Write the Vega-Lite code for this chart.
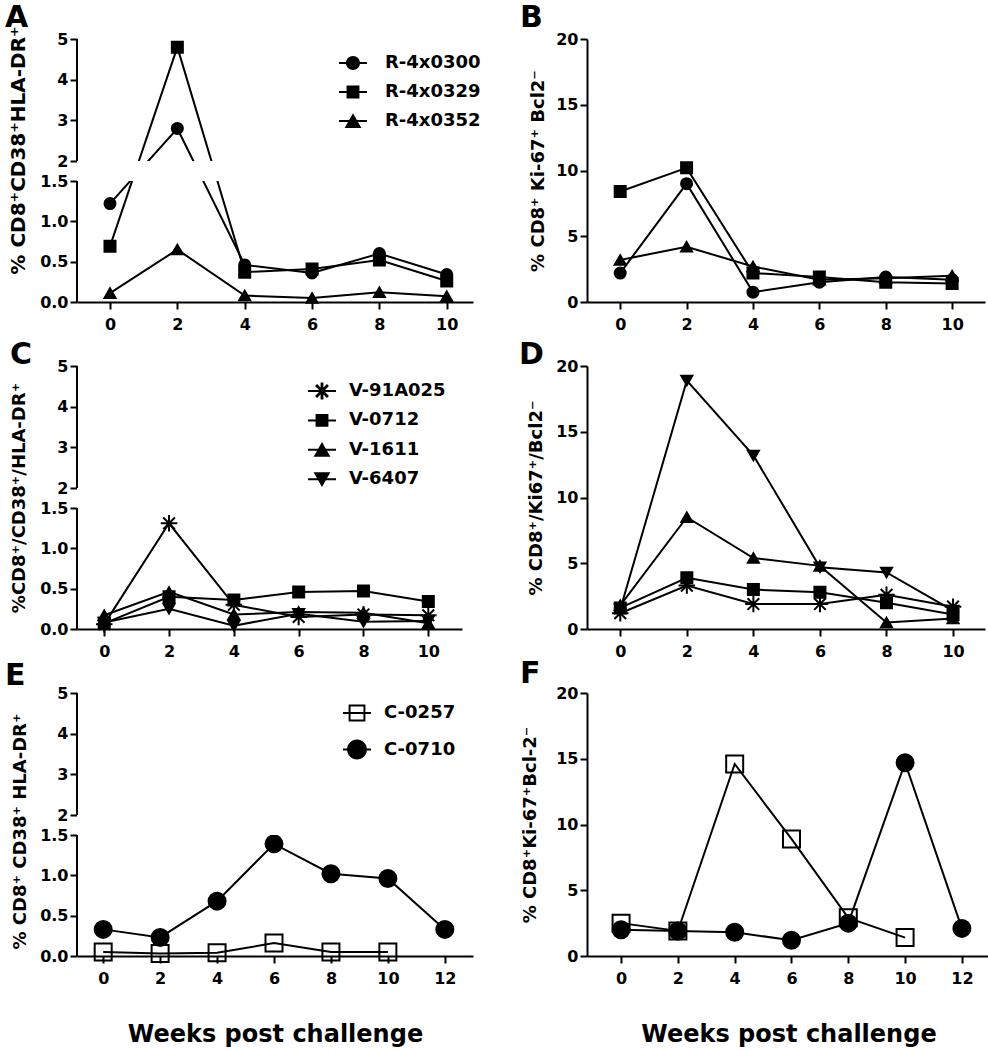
{
  "$schema": "https://vega.github.io/schema/vega-lite/v6.json",
  "background": "white",
  "padding": {"left": 5, "top": 2, "right": 5, "bottom": 8},
  "config": {
    "font": "DejaVu Sans",
    "view": {"stroke": null},
    "axis": {"grid": false, "labelFont": "DejaVu Sans", "labelFontWeight": "bold", "labelFontSize": 16, "labelColor": "black", "titleFont": "DejaVu Sans", "titleFontWeight": "bold", "titleFontSize": 18, "titleColor": "black", "domainColor": "black", "domainWidth": 2, "tickColor": "black", "tickWidth": 2, "tickSize": 7, "labelOverlap": false, "labelFlush": false},
    "axisX": {"labelPadding": 7},
    "axisY": {"labelPadding": 2},
    "legend": {"labelFont": "DejaVu Sans", "labelFontWeight": "bold", "labelFontSize": 18, "labelColor": "black", "labelLimit": 400},
    "title": {"font": "DejaVu Sans", "fontSize": 30, "fontWeight": "bold", "color": "black", "anchor": "start", "frame": "group", "offset": 0}
  },
  "datasets": {
    "dA": [
      {"animal": "R-4x0300", "week": 0, "value": 1.22}, {"animal": "R-4x0300", "week": 2, "value": 2.8}, {"animal": "R-4x0300", "week": 4, "value": 0.46}, {"animal": "R-4x0300", "week": 6, "value": 0.36}, {"animal": "R-4x0300", "week": 8, "value": 0.6}, {"animal": "R-4x0300", "week": 10, "value": 0.34},
      {"animal": "R-4x0329", "week": 0, "value": 0.69}, {"animal": "R-4x0329", "week": 2, "value": 4.8}, {"animal": "R-4x0329", "week": 4, "value": 0.37}, {"animal": "R-4x0329", "week": 6, "value": 0.41}, {"animal": "R-4x0329", "week": 8, "value": 0.52}, {"animal": "R-4x0329", "week": 10, "value": 0.26},
      {"animal": "R-4x0352", "week": 0, "value": 0.11}, {"animal": "R-4x0352", "week": 2, "value": 0.65}, {"animal": "R-4x0352", "week": 4, "value": 0.08}, {"animal": "R-4x0352", "week": 6, "value": 0.05}, {"animal": "R-4x0352", "week": 8, "value": 0.12}, {"animal": "R-4x0352", "week": 10, "value": 0.07}
    ],
    "dB": [
      {"animal": "R-4x0300", "week": 0, "value": 2.2}, {"animal": "R-4x0300", "week": 2, "value": 9.0}, {"animal": "R-4x0300", "week": 4, "value": 0.75}, {"animal": "R-4x0300", "week": 6, "value": 1.5}, {"animal": "R-4x0300", "week": 8, "value": 1.9}, {"animal": "R-4x0300", "week": 10, "value": 1.7},
      {"animal": "R-4x0329", "week": 0, "value": 8.4}, {"animal": "R-4x0329", "week": 2, "value": 10.2}, {"animal": "R-4x0329", "week": 4, "value": 2.2}, {"animal": "R-4x0329", "week": 6, "value": 1.9}, {"animal": "R-4x0329", "week": 8, "value": 1.5}, {"animal": "R-4x0329", "week": 10, "value": 1.4},
      {"animal": "R-4x0352", "week": 0, "value": 3.2}, {"animal": "R-4x0352", "week": 2, "value": 4.2}, {"animal": "R-4x0352", "week": 4, "value": 2.7}, {"animal": "R-4x0352", "week": 6, "value": 1.7}, {"animal": "R-4x0352", "week": 8, "value": 1.8}, {"animal": "R-4x0352", "week": 10, "value": 2.0}
    ],
    "dC": [
      {"animal": "V-91A025", "week": 0, "value": 0.06}, {"animal": "V-91A025", "week": 2, "value": 1.31}, {"animal": "V-91A025", "week": 4, "value": 0.3}, {"animal": "V-91A025", "week": 6, "value": 0.15}, {"animal": "V-91A025", "week": 8, "value": 0.18}, {"animal": "V-91A025", "week": 10, "value": 0.17},
      {"animal": "V-0712", "week": 0, "value": 0.07}, {"animal": "V-0712", "week": 2, "value": 0.4}, {"animal": "V-0712", "week": 4, "value": 0.36}, {"animal": "V-0712", "week": 6, "value": 0.46}, {"animal": "V-0712", "week": 8, "value": 0.47}, {"animal": "V-0712", "week": 10, "value": 0.34},
      {"animal": "V-1611", "week": 0, "value": 0.17}, {"animal": "V-1611", "week": 2, "value": 0.46}, {"animal": "V-1611", "week": 4, "value": 0.18}, {"animal": "V-1611", "week": 6, "value": 0.21}, {"animal": "V-1611", "week": 8, "value": 0.2}, {"animal": "V-1611", "week": 10, "value": 0.07},
      {"animal": "V-6407", "week": 0, "value": 0.08}, {"animal": "V-6407", "week": 2, "value": 0.25}, {"animal": "V-6407", "week": 4, "value": 0.04}, {"animal": "V-6407", "week": 6, "value": 0.19}, {"animal": "V-6407", "week": 8, "value": 0.09}, {"animal": "V-6407", "week": 10, "value": 0.1}
    ],
    "dD": [
      {"animal": "V-91A025", "week": 0, "value": 1.2}, {"animal": "V-91A025", "week": 2, "value": 3.3}, {"animal": "V-91A025", "week": 4, "value": 1.9}, {"animal": "V-91A025", "week": 6, "value": 1.9}, {"animal": "V-91A025", "week": 8, "value": 2.6}, {"animal": "V-91A025", "week": 10, "value": 1.7},
      {"animal": "V-0712", "week": 0, "value": 1.6}, {"animal": "V-0712", "week": 2, "value": 3.9}, {"animal": "V-0712", "week": 4, "value": 3.0}, {"animal": "V-0712", "week": 6, "value": 2.8}, {"animal": "V-0712", "week": 8, "value": 2.0}, {"animal": "V-0712", "week": 10, "value": 1.1},
      {"animal": "V-1611", "week": 0, "value": 1.8}, {"animal": "V-1611", "week": 2, "value": 8.5}, {"animal": "V-1611", "week": 4, "value": 5.4}, {"animal": "V-1611", "week": 6, "value": 4.8}, {"animal": "V-1611", "week": 8, "value": 0.5}, {"animal": "V-1611", "week": 10, "value": 0.8},
      {"animal": "V-6407", "week": 0, "value": 1.5}, {"animal": "V-6407", "week": 2, "value": 18.9}, {"animal": "V-6407", "week": 4, "value": 13.2}, {"animal": "V-6407", "week": 6, "value": 4.7}, {"animal": "V-6407", "week": 8, "value": 4.3}, {"animal": "V-6407", "week": 10, "value": 1.4}
    ],
    "dE": [
      {"animal": "C-0710", "week": 0, "value": 0.33}, {"animal": "C-0710", "week": 2, "value": 0.23}, {"animal": "C-0710", "week": 4, "value": 0.68}, {"animal": "C-0710", "week": 6, "value": 1.39}, {"animal": "C-0710", "week": 8, "value": 1.02}, {"animal": "C-0710", "week": 10, "value": 0.96}, {"animal": "C-0710", "week": 12, "value": 0.33},
      {"animal": "C-0257", "week": 0, "value": 0.05}, {"animal": "C-0257", "week": 2, "value": 0.03}, {"animal": "C-0257", "week": 4, "value": 0.04}, {"animal": "C-0257", "week": 6, "value": 0.16}, {"animal": "C-0257", "week": 8, "value": 0.05}, {"animal": "C-0257", "week": 10, "value": 0.05}
    ],
    "dF": [
      {"animal": "C-0710", "week": 0, "value": 2.0}, {"animal": "C-0710", "week": 2, "value": 1.9}, {"animal": "C-0710", "week": 4, "value": 1.8}, {"animal": "C-0710", "week": 6, "value": 1.2}, {"animal": "C-0710", "week": 8, "value": 2.5}, {"animal": "C-0710", "week": 10, "value": 14.7}, {"animal": "C-0710", "week": 12, "value": 2.1},
      {"animal": "C-0257", "week": 0, "value": 2.5}, {"animal": "C-0257", "week": 2, "value": 1.9}, {"animal": "C-0257", "week": 4, "value": 14.6}, {"animal": "C-0257", "week": 6, "value": 8.9}, {"animal": "C-0257", "week": 8, "value": 2.9}, {"animal": "C-0257", "week": 10, "value": 1.4}
    ]
  },
  "bounds": "flush",
  "align": "all",
  "columns": 2,
  "spacing": {"row": 64, "column": 107},
  "resolve": {"scale": {"shape": "independent", "fill": "independent", "x": "independent", "y": "independent"}, "legend": {"shape": "independent", "fill": "independent"}},
  "concat": [
    {
      "width": 396, "height": 263,
      "title": {"text": "A", "dx": -72, "dy": 11},
      "data": {"name": "dA"},
      "resolve": {"scale": {"shape": "independent"}, "legend": {"shape": "independent"}},
      "layer": [
        {"mark": {"type": "line", "color": "black", "strokeWidth": 2},
         "encoding": {
           "x": {"field": "week", "type": "quantitative", "scale": {"domain": [-0.98, 10.78], "nice": false, "zero": false}, "axis": {"values": [0, 2, 4, 6, 8, 10], "tickCount": 20, "format": "d", "title": null, "labelOverlap": false}},
           "y": {"field": "value", "type": "quantitative", "scale": {"domain": [0, 1.5, 2, 5], "range": [263, 142, 122, 0], "nice": false, "zero": false}, "axis": {"values": [0, 0.5, 1, 1.5, 2, 3, 4, 5], "tickCount": 20, "labelExpr": "datum.value >= 2 ? format(datum.value, 'd') : format(datum.value, '.1f')", "labelOverlap": false, "domain": false, "title": "% CD8⁺CD38⁺HLA-DR⁺", "titleFontSize": 20, "titlePadding": 11, "titleY": 111}},
           "detail": {"field": "animal"}}},
        {"mark": {"type": "point", "filled": true, "opacity": 1, "color": "black", "stroke": "black", "strokeWidth": 2, "size": 121},
         "encoding": {
           "x": {"field": "week", "type": "quantitative", "scale": {"domain": [-0.98, 10.78], "nice": false, "zero": false}},
           "y": {"field": "value", "type": "quantitative", "scale": {"domain": [0, 1.5, 2, 5], "range": [263, 142, 122, 0], "nice": false, "zero": false}},
           "shape": {"field": "animal", "type": "nominal", "scale": {"domain": ["R-4x0300", "R-4x0329", "R-4x0352"], "range": ["circle", "square", "triangle-up"]}, "legend": null}}},
        {"transform": [{"filter": "false"}],
         "mark": {"type": "point", "filled": true, "opacity": 1, "color": "black", "strokeWidth": 0},
         "encoding": {
           "shape": {"field": "animal", "type": "nominal", "scale": {"domain": ["R-4x0300", "R-4x0329", "R-4x0352"], "range": ["M-1,-0.07H1V0.07H-1Z M0.5,0A0.5,0.5,0,1,1,-0.5,0A0.5,0.5,0,1,1,0.5,0Z", "M-1,-0.07H1V0.07H-1Z M-0.46,-0.46H0.46V0.46H-0.46Z", "M-1,-0.07H1V0.07H-1Z M0,-0.55L0.6,0.5H-0.6Z"]},
             "legend": {"orient": "none", "legendX": 262, "legendY": 10, "title": null, "padding": 0, "labelOffset": 18, "symbolSize": 784, "symbolStrokeWidth": 0, "symbolOpacity": 1, "rowPadding": 6}}}},
        {"data": {"values": [{}]}, "mark": {"type": "rect", "color": "white"},
         "encoding": {"y": {"datum": 1.5, "type": "quantitative", "scale": {"domain": [0, 1.5, 2, 5], "range": [263, 142, 122, 0], "nice": false, "zero": false}}, "y2": {"datum": 2}}},
        {"data": {"values": [{}]}, "mark": {"type": "rule", "color": "black", "strokeWidth": 2},
         "encoding": {"x": {"datum": -0.98, "type": "quantitative", "scale": {"domain": [-0.98, 10.78], "nice": false, "zero": false}}, "y": {"datum": 0, "type": "quantitative", "scale": {"domain": [0, 1.5, 2, 5], "range": [263, 142, 122, 0], "nice": false, "zero": false}}, "y2": {"datum": 1.5}}},
        {"data": {"values": [{}]}, "mark": {"type": "rule", "color": "black", "strokeWidth": 2},
         "encoding": {"x": {"datum": -0.98, "type": "quantitative", "scale": {"domain": [-0.98, 10.78], "nice": false, "zero": false}}, "y": {"datum": 2, "type": "quantitative", "scale": {"domain": [0, 1.5, 2, 5], "range": [263, 142, 122, 0], "nice": false, "zero": false}}, "y2": {"datum": 5}}}
      ]
    },
    {
      "width": 398, "height": 263,
      "title": {"text": "B", "dx": -67, "dy": 6},
      "data": {"name": "dB"},
      "layer": [
        {"mark": {"type": "line", "color": "black", "strokeWidth": 2},
         "encoding": {
           "x": {"field": "week", "type": "quantitative", "scale": {"domain": [-1.0, 10.99], "nice": false, "zero": false}, "axis": {"values": [0, 2, 4, 6, 8, 10], "tickCount": 20, "format": "d", "title": null, "labelOverlap": false}},
           "y": {"field": "value", "type": "quantitative", "scale": {"domain": [0, 20], "nice": false, "zero": false}, "axis": {"values": [0, 5, 10, 15, 20], "tickCount": 20, "format": "d", "labelOverlap": false, "title": "% CD8⁺ Ki-67⁺ Bcl2⁻", "titlePadding": 8}},
           "detail": {"field": "animal"}}},
        {"mark": {"type": "point", "filled": true, "opacity": 1, "color": "black", "stroke": "black", "strokeWidth": 2, "size": 121},
         "encoding": {
           "x": {"field": "week", "type": "quantitative", "scale": {"domain": [-1.0, 10.99], "nice": false, "zero": false}},
           "y": {"field": "value", "type": "quantitative", "scale": {"domain": [0, 20], "nice": false, "zero": false}},
           "shape": {"field": "animal", "type": "nominal", "scale": {"domain": ["R-4x0300", "R-4x0329", "R-4x0352"], "range": ["circle", "square", "triangle-up"]}, "legend": null}}}
      ]
    },
    {
      "width": 385, "height": 263,
      "title": {"text": "C", "dx": -67, "dy": 16},
      "data": {"name": "dC"},
      "resolve": {"scale": {"shape": "independent"}, "legend": {"shape": "independent"}},
      "layer": [
        {"mark": {"type": "line", "color": "black", "strokeWidth": 2},
         "encoding": {
           "x": {"field": "week", "type": "quantitative", "scale": {"domain": [-0.84, 11.04], "nice": false, "zero": false}, "axis": {"values": [0, 2, 4, 6, 8, 10], "tickCount": 20, "format": "d", "title": null, "labelOverlap": false}},
           "y": {"field": "value", "type": "quantitative", "scale": {"domain": [0, 1.5, 2, 5], "range": [263, 142, 122, 0], "nice": false, "zero": false}, "axis": {"values": [0, 0.5, 1, 1.5, 2, 3, 4, 5], "tickCount": 20, "labelExpr": "datum.value >= 2 ? format(datum.value, 'd') : format(datum.value, '.1f')", "labelOverlap": false, "domain": false, "title": "%CD8⁺/CD38⁺/HLA-DR⁺", "titlePadding": 11}},
           "detail": {"field": "animal"}}},
        {"mark": {"type": "point", "filled": true, "opacity": 1, "color": "black", "stroke": "black", "strokeWidth": 2, "size": 121},
         "encoding": {
           "x": {"field": "week", "type": "quantitative", "scale": {"domain": [-0.84, 11.04], "nice": false, "zero": false}},
           "y": {"field": "value", "type": "quantitative", "scale": {"domain": [0, 1.5, 2, 5], "range": [263, 142, 122, 0], "nice": false, "zero": false}},
           "shape": {"field": "animal", "type": "nominal", "scale": {"domain": ["V-91A025", "V-0712", "V-1611", "V-6407"], "range": ["M0,-1.5V1.5M-1.5,0H1.5M-1.06,-1.06L1.06,1.06M-1.06,1.06L1.06,-1.06", "square", "triangle-up", "triangle-down"]}, "legend": null}}},
        {"transform": [{"filter": "false"}],
         "mark": {"type": "point", "filled": true, "opacity": 1, "color": "black", "strokeWidth": 0},
         "encoding": {
           "shape": {"field": "animal", "type": "nominal", "scale": {"domain": ["V-91A025", "V-0712", "V-1611", "V-6407"], "range": ["M-1,-0.07H1V0.07H-1Z M-0.1,-0.6H0.1V0.6H-0.1Z M-0.495,-0.354L-0.354,-0.495L0.495,0.354L0.354,0.495Z M-0.354,0.495L-0.495,0.354L0.354,-0.495L0.495,-0.354Z", "M-1,-0.07H1V0.07H-1Z M-0.46,-0.46H0.46V0.46H-0.46Z", "M-1,-0.07H1V0.07H-1Z M0,-0.55L0.6,0.5H-0.6Z", "M-1,-0.07H1V0.07H-1Z M0,0.55L-0.6,-0.5H0.6Z"]},
             "legend": {"orient": "none", "legendX": 231, "legendY": 11, "title": null, "padding": 0, "labelOffset": 13, "symbolSize": 784, "symbolStrokeWidth": 0, "symbolOpacity": 1, "rowPadding": 6.4}}}},
        {"data": {"values": [{}]}, "mark": {"type": "rect", "color": "white"},
         "encoding": {"y": {"datum": 1.5, "type": "quantitative", "scale": {"domain": [0, 1.5, 2, 5], "range": [263, 142, 122, 0], "nice": false, "zero": false}}, "y2": {"datum": 2}}},
        {"data": {"values": [{}]}, "mark": {"type": "rule", "color": "black", "strokeWidth": 2},
         "encoding": {"x": {"datum": -0.84, "type": "quantitative", "scale": {"domain": [-0.84, 11.04], "nice": false, "zero": false}}, "y": {"datum": 0, "type": "quantitative", "scale": {"domain": [0, 1.5, 2, 5], "range": [263, 142, 122, 0], "nice": false, "zero": false}}, "y2": {"datum": 1.5}}},
        {"data": {"values": [{}]}, "mark": {"type": "rule", "color": "black", "strokeWidth": 2},
         "encoding": {"x": {"datum": -0.84, "type": "quantitative", "scale": {"domain": [-0.84, 11.04], "nice": false, "zero": false}}, "y": {"datum": 2, "type": "quantitative", "scale": {"domain": [0, 1.5, 2, 5], "range": [263, 142, 122, 0], "nice": false, "zero": false}}, "y2": {"datum": 5}}}
      ]
    },
    {
      "width": 398, "height": 263,
      "title": {"text": "D", "dx": -68, "dy": 16},
      "data": {"name": "dD"},
      "layer": [
        {"mark": {"type": "line", "color": "black", "strokeWidth": 2},
         "encoding": {
           "x": {"field": "week", "type": "quantitative", "scale": {"domain": [-1.0, 10.96], "nice": false, "zero": false}, "axis": {"values": [0, 2, 4, 6, 8, 10], "tickCount": 20, "format": "d", "title": null, "labelOverlap": false}},
           "y": {"field": "value", "type": "quantitative", "scale": {"domain": [0, 20], "nice": false, "zero": false}, "axis": {"values": [0, 5, 10, 15, 20], "tickCount": 20, "format": "d", "labelOverlap": false, "title": "% CD8⁺/Ki67⁺/Bcl2⁻", "titlePadding": 10}},
           "detail": {"field": "animal"}}},
        {"mark": {"type": "point", "filled": true, "opacity": 1, "color": "black", "stroke": "black", "strokeWidth": 2, "size": 121},
         "encoding": {
           "x": {"field": "week", "type": "quantitative", "scale": {"domain": [-1.0, 10.96], "nice": false, "zero": false}},
           "y": {"field": "value", "type": "quantitative", "scale": {"domain": [0, 20], "nice": false, "zero": false}},
           "shape": {"field": "animal", "type": "nominal", "scale": {"domain": ["V-91A025", "V-0712", "V-1611", "V-6407"], "range": ["M0,-1.5V1.5M-1.5,0H1.5M-1.06,-1.06L1.06,1.06M-1.06,1.06L1.06,-1.06", "square", "triangle-up", "triangle-down"]}, "legend": null}}}
      ]
    },
    {
      "width": 396, "height": 263,
      "title": {"text": "E", "dx": -72, "dy": 10},
      "data": {"name": "dE"},
      "resolve": {"scale": {"shape": "independent"}, "legend": {"shape": "independent"}},
      "layer": [
        {"mark": {"type": "line", "color": "black", "strokeWidth": 2},
         "encoding": {
           "x": {"field": "week", "type": "quantitative", "scale": {"domain": [-0.92, 12.99], "nice": false, "zero": false}, "axis": {"values": [0, 2, 4, 6, 8, 10, 12], "tickCount": 20, "format": "d", "labelOverlap": false, "title": "Weeks post challenge", "titleFontSize": 24, "titlePadding": 36}},
           "y": {"field": "value", "type": "quantitative", "scale": {"domain": [0, 1.5, 2, 5], "range": [263, 142, 122, 0], "nice": false, "zero": false}, "axis": {"values": [0, 0.5, 1, 1.5, 2, 3, 4, 5], "tickCount": 20, "labelExpr": "datum.value >= 2 ? format(datum.value, 'd') : format(datum.value, '.1f')", "labelOverlap": false, "domain": false, "title": "% CD8⁺ CD38⁺ HLA-DR⁺", "titlePadding": 10, "titleY": 138}},
           "detail": {"field": "animal"}}},
        {"mark": {"type": "point", "filled": true, "opacity": 1, "color": "black", "stroke": "black", "strokeWidth": 2, "size": 289},
         "encoding": {
           "x": {"field": "week", "type": "quantitative", "scale": {"domain": [-0.92, 12.99], "nice": false, "zero": false}},
           "y": {"field": "value", "type": "quantitative", "scale": {"domain": [0, 1.5, 2, 5], "range": [263, 142, 122, 0], "nice": false, "zero": false}},
           "shape": {"field": "animal", "type": "nominal", "scale": {"domain": ["C-0257", "C-0710"], "range": ["square", "circle"]}, "legend": null},
           "fill": {"field": "animal", "type": "nominal", "scale": {"domain": ["C-0257", "C-0710"], "range": ["transparent", "black"]}, "legend": null}}},
        {"transform": [{"filter": "false"}],
         "mark": {"type": "point", "filled": true, "opacity": 1, "color": "black", "strokeWidth": 0},
         "encoding": {
           "shape": {"field": "animal", "type": "nominal", "scale": {"domain": ["C-0257", "C-0710"], "range": ["M-1,-0.07H1V0.07H-1Z M-0.6,-0.6H0.6V0.6H-0.6Z M-0.46,-0.46V0.46H0.46V-0.46Z", "M-1,-0.07H1V0.07H-1Z M0.71,0A0.71,0.71,0,1,1,-0.71,0A0.71,0.71,0,1,1,0.71,0Z"]},
             "legend": {"orient": "none", "legendX": 266, "legendY": 6, "title": null, "padding": 0, "labelOffset": 13, "symbolSize": 784, "symbolStrokeWidth": 0, "symbolOpacity": 1, "rowPadding": 13.5}}}},
        {"data": {"values": [{}]}, "mark": {"type": "rect", "color": "white"},
         "encoding": {"y": {"datum": 1.5, "type": "quantitative", "scale": {"domain": [0, 1.5, 2, 5], "range": [263, 142, 122, 0], "nice": false, "zero": false}}, "y2": {"datum": 2}}},
        {"data": {"values": [{}]}, "mark": {"type": "rule", "color": "black", "strokeWidth": 2},
         "encoding": {"x": {"datum": -0.92, "type": "quantitative", "scale": {"domain": [-0.92, 12.99], "nice": false, "zero": false}}, "y": {"datum": 0, "type": "quantitative", "scale": {"domain": [0, 1.5, 2, 5], "range": [263, 142, 122, 0], "nice": false, "zero": false}}, "y2": {"datum": 1.5}}},
        {"data": {"values": [{}]}, "mark": {"type": "rule", "color": "black", "strokeWidth": 2},
         "encoding": {"x": {"datum": -0.92, "type": "quantitative", "scale": {"domain": [-0.92, 12.99], "nice": false, "zero": false}}, "y": {"datum": 2, "type": "quantitative", "scale": {"domain": [0, 1.5, 2, 5], "range": [263, 142, 122, 0], "nice": false, "zero": false}}, "y2": {"datum": 5}}}
      ]
    },
    {
      "width": 403, "height": 263,
      "title": {"text": "F", "dx": -67, "dy": 8},
      "data": {"name": "dF"},
      "layer": [
        {"mark": {"type": "line", "color": "black", "strokeWidth": 2},
         "encoding": {
           "x": {"field": "week", "type": "quantitative", "scale": {"domain": [-1.2, 12.99], "nice": false, "zero": false}, "axis": {"values": [0, 2, 4, 6, 8, 10, 12], "tickCount": 20, "format": "d", "labelOverlap": false, "title": "Weeks post challenge", "titleFontSize": 24, "titlePadding": 36}},
           "y": {"field": "value", "type": "quantitative", "scale": {"domain": [0, 20], "nice": false, "zero": false}, "axis": {"values": [0, 5, 10, 15, 20], "tickCount": 20, "format": "d", "labelOverlap": false, "title": "% CD8⁺Ki-67⁺Bcl-2⁻", "titlePadding": 16}},
           "detail": {"field": "animal"}}},
        {"mark": {"type": "point", "filled": true, "opacity": 1, "color": "black", "stroke": "black", "strokeWidth": 2, "size": 289},
         "encoding": {
           "x": {"field": "week", "type": "quantitative", "scale": {"domain": [-1.2, 12.99], "nice": false, "zero": false}},
           "y": {"field": "value", "type": "quantitative", "scale": {"domain": [0, 20], "nice": false, "zero": false}},
           "shape": {"field": "animal", "type": "nominal", "scale": {"domain": ["C-0257", "C-0710"], "range": ["square", "circle"]}, "legend": null},
           "fill": {"field": "animal", "type": "nominal", "scale": {"domain": ["C-0257", "C-0710"], "range": ["transparent", "black"]}, "legend": null}}}
      ]
    }
  ]
}
